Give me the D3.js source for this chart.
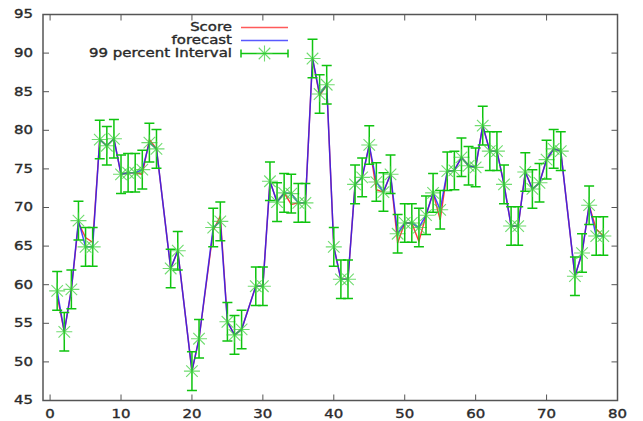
<!DOCTYPE html>
<html>
<head>
<meta charset="utf-8">
<script src="https://cdn.jsdelivr.net/npm/d3@7"></script>
<style>
  body { margin: 0; background: #fff; }
  text { font-family: "DejaVu Sans", sans-serif; fill: #2a2a2a; stroke: #2a2a2a; stroke-width: 0.35; }
</style>
</head>
<body>
<div id="chart"></div>
<script>
// x positions (time index) of the points
const xs = [1, 2, 3, 4, 5, 6, 7, 8, 9, 10, 11, 12, 13, 14, 15, 17, 18, 20, 21, 23,
  24, 25, 26, 27, 29, 30, 31, 32, 33, 34, 35, 36, 37, 38, 39, 40, 41, 42, 43, 44,
  45, 46, 47, 48, 49, 50, 51, 52, 53, 54, 55, 56, 57, 58, 59, 60, 61, 62, 63, 64,
  65, 66, 67, 68, 69, 70, 71, 72, 74, 75, 76, 77, 78];

// forecast values (also the centre of the interval)
const forecast = [59.2, 53.9, 59.4, 68.3, 64.9, 64.9, 78.8, 78.0, 78.9, 74.3, 74.5, 74.5, 74.9, 78.4, 77.6, 62.1, 64.4, 48.8, 53.0, 67.4,
  68.2, 55.2, 53.5, 54.2, 59.8, 59.8, 73.4, 70.7, 71.9, 71.8, 70.6, 70.6, 89.3, 84.7, 85.9, 64.9, 60.7, 60.7, 73.0, 73.9,
  78.1, 73.3, 72.0, 74.3, 66.6, 68.0, 68.0, 67.4, 69.0, 71.9, 69.7, 74.7, 74.8, 76.5, 75.4, 75.2, 80.6, 77.3, 77.3, 73.0,
  67.6, 67.6, 74.6, 72.4, 73.2, 76.2, 77.6, 77.3, 61.1, 64.1, 70.3, 66.3, 66.3];

// actual scores
const score = [58.6, 53.9, 59.4, 68.0, 66.1, 65.5, 78.8, 78.0, 78.9, 74.3, 74.5, 74.5, 74.3, 78.8, 77.6, 62.1, 64.4, 48.8, 53.0, 67.0,
  68.9, 55.2, 53.5, 54.2, 59.8, 59.8, 73.4, 70.7, 71.9, 70.4, 70.6, 70.6, 89.3, 84.5, 85.9, 64.9, 60.7, 60.7, 73.0, 73.9,
  78.1, 72.3, 72.0, 74.3, 65.4, 68.0, 68.0, 65.6, 69.0, 71.9, 68.4, 74.7, 74.8, 76.5, 75.4, 75.2, 80.6, 77.3, 77.3, 73.0,
  67.6, 67.6, 74.6, 72.4, 73.2, 76.2, 77.6, 77.3, 61.1, 64.1, 70.3, 67.2, 66.3];

// half width of the 99 percent interval
const intervalHalf = 2.5;

const xTicks = [0, 10, 20, 30, 40, 50, 60, 70, 80];
const yTicks = [45, 50, 55, 60, 65, 70, 75, 80, 85, 90, 95];

const legendLabels = ["Score", "forecast", "99 percent Interval"];

const W = 643, H = 421;
const plot = { left: 43, right: 617.5, top: 14.5, bottom: 400.5 };
const stretch = 1.3; // text in the picture is wide

const data = xs.map((x, i) => ({ x: x, f: forecast[i], s: score[i] }));

const svg = d3.select("#chart")
  .append("svg")
  .attr("width", W)
  .attr("height", H);

const x = d3.scaleLinear().domain([-1, 80]).range([plot.left, plot.right]);
const y = d3.scaleLinear().domain([45, 95]).range([plot.bottom, plot.top]);

const wide = (sel) => sel.attr("transform", function () {
  const tx = +this.getAttribute("x"), ty = +this.getAttribute("y");
  return `translate(${tx},${ty}) scale(${stretch},1) translate(${-tx},${-ty})`;
});

// frame
svg.append("rect")
  .attr("x", plot.left).attr("y", plot.top)
  .attr("width", plot.right - plot.left).attr("height", plot.bottom - plot.top)
  .attr("fill", "none").attr("stroke", "#555").attr("stroke-width", 1.5);

// inward ticks on all sides
const tl = 6;
xTicks.forEach(t => {
  svg.append("line").attr("x1", x(t)).attr("x2", x(t)).attr("y1", plot.bottom).attr("y2", plot.bottom - tl)
    .attr("stroke", "#555");
  svg.append("line").attr("x1", x(t)).attr("x2", x(t)).attr("y1", plot.top).attr("y2", plot.top + tl)
    .attr("stroke", "#555");
});
yTicks.forEach(t => {
  svg.append("line").attr("x1", plot.left).attr("x2", plot.left + tl).attr("y1", y(t)).attr("y2", y(t))
    .attr("stroke", "#555");
  svg.append("line").attr("x1", plot.right).attr("x2", plot.right - tl).attr("y1", y(t)).attr("y2", y(t))
    .attr("stroke", "#555");
});

// tick labels
svg.selectAll(".xl").data(xTicks).enter().append("text")
  .attr("x", d => x(d)).attr("y", 418)
  .attr("text-anchor", "middle")
  .attr("font-size", 11.5)
  .text(d => d)
  .call(wide);

svg.selectAll(".yl").data(yTicks).enter().append("text")
  .attr("x", 33).attr("y", d => y(d) + 4)
  .attr("text-anchor", "end")
  .attr("font-size", 11.5)
  .text(d => d)
  .call(wide);

// lines
const lineS = d3.line().x(d => x(d.x)).y(d => y(d.s));
const lineF = d3.line().x(d => x(d.x)).y(d => y(d.f));

svg.append("path").datum(data)
  .attr("fill", "none").attr("stroke", "#ff3a3a").attr("stroke-width", 1.4)
  .attr("d", lineS);
svg.append("path").datum(data)
  .attr("fill", "none").attr("stroke", "#1a1aff").attr("stroke-width", 1.5)
  .attr("stroke-opacity", 0.8)
  .attr("d", lineF);

// star marker (plus and cross)
function star(g, cx, cy, r) {
  const d = r * 0.72;
  g.append("path")
    .attr("d", `M${cx - r},${cy}H${cx + r}M${cx},${cy - r}V${cy + r}` +
      `M${cx - d},${cy - d}L${cx + d},${cy + d}M${cx - d},${cy + d}L${cx + d},${cy - d}`)
    .attr("stroke", "#3fd03f").attr("stroke-opacity", 0.75)
    .attr("stroke-width", 1.1).attr("fill", "none");
}

// interval bars and stars
const cap = 5;
const gI = svg.append("g");
data.forEach(d => {
  const cx = x(d.x), y1 = y(d.f + intervalHalf), y0 = y(d.f - intervalHalf);
  gI.append("path")
    .attr("d", `M${cx},${y1}V${y0}M${cx - cap},${y1}H${cx + cap}M${cx - cap},${y0}H${cx + cap}`)
    .attr("stroke", "#0fc40f").attr("stroke-width", 1.5).attr("fill", "none");
  star(gI, cx, y(d.f), 8);
});

// legend
const lx0 = 241, lx1 = 288, rows = [27.5, 40.5, 53.5];
legendLabels.forEach((t, i) => {
  svg.append("text")
    .attr("x", 232).attr("y", rows[i] + 4)
    .attr("text-anchor", "end")
    .attr("font-size", 11.5)
    .text(t)
    .call(wide);
});
svg.append("line").attr("x1", lx0).attr("x2", lx1).attr("y1", rows[0]).attr("y2", rows[0])
  .attr("stroke", "#ff5a5a").attr("stroke-width", 1.4);
svg.append("line").attr("x1", lx0).attr("x2", lx1).attr("y1", rows[1]).attr("y2", rows[1])
  .attr("stroke", "#3030ff").attr("stroke-width", 1.5).attr("stroke-opacity", 0.8);
svg.append("path")
  .attr("d", `M${lx0},${rows[2]}H${lx1}M${lx0},${rows[2] - 4}V${rows[2] + 4}M${lx1},${rows[2] - 4}V${rows[2] + 4}`)
  .attr("stroke", "#0fc40f").attr("stroke-width", 1.5).attr("fill", "none");
star(svg, (lx0 + lx1) / 2, rows[2], 8);
</script>
</body>
</html>
